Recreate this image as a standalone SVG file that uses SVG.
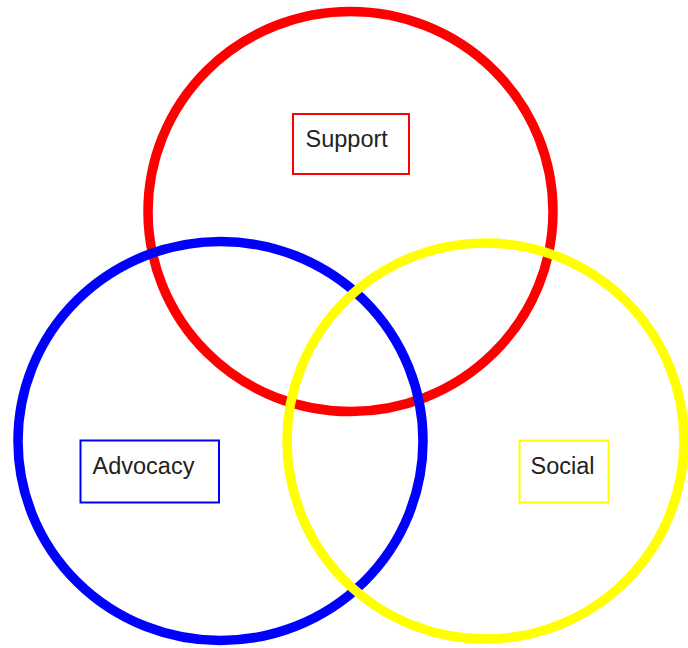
<svg xmlns="http://www.w3.org/2000/svg" width="688" height="648" viewBox="0 0 688 648">
<style>
.ring{fill:none;stroke-width:9.5}
.box{fill:#fff;stroke-width:2}
.lbl{font-family:"Liberation Sans",Arial,sans-serif;font-size:23.5px;fill:#222}
</style>
<rect width="688" height="648" fill="#fff"/>
<g id="support">
<ellipse class="ring" cx="350.5" cy="211.5" rx="202.5" ry="200" stroke="#ff0000"/>
</g>
<g id="advocacy">
<ellipse class="ring" cx="220.5" cy="441" rx="202.5" ry="199.5" stroke="#0000ff"/>
</g>
<g id="social">
<ellipse class="ring" cx="485.5" cy="441" rx="198.5" ry="198" stroke="#ffff00"/>
</g>
<g id="support-label">
<rect class="box" x="293" y="114" width="116" height="60" stroke="#ff0000"/>
<text class="lbl" x="305.5" y="147">Support</text>
</g>
<g id="advocacy-label">
<rect class="box" x="80.5" y="440.5" width="138.5" height="62" stroke="#0000ff"/>
<text class="lbl" x="92.5" y="474">Advocacy</text>
</g>
<g id="social-label">
<rect class="box" x="519.5" y="440.5" width="89" height="62" stroke="#ffff00"/>
<text class="lbl" x="530.5" y="474">Social</text>
</g>
<g id="connectors"></g>
</svg>
